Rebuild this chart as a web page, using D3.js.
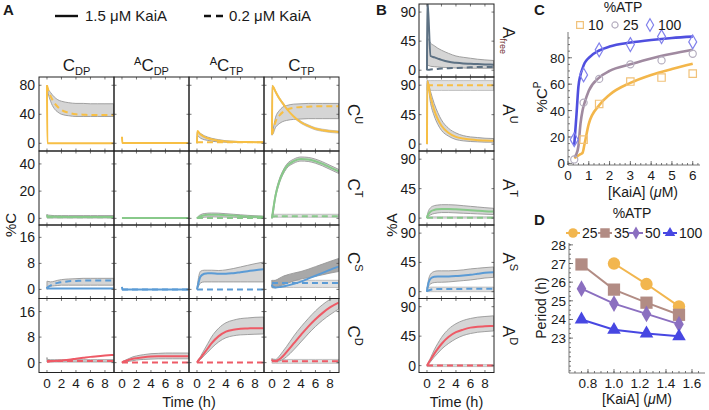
<!DOCTYPE html>
<html><head><meta charset="utf-8">
<script src="https://cdn.jsdelivr.net/npm/d3@7"></script>
<style>
body{margin:0;background:#fff}
text{font-family:"Liberation Sans",Arial,Helvetica,sans-serif;fill:#1a1a1a}
</style></head>
<body><svg id="fig" width="709" height="410"></svg>
<script>
// ---------------- DATA ----------------
const T = [0, 0.05, 0.5, 1, 1.5, 2, 3, 4, 5, 6, 7, 8, 9.2]; // time (h)
const xTicks = [0, 2, 4, 6, 8];
const colNames = [["", "C", "DP"], ["A", "C", "DP"], ["A", "C", "TP"], ["", "C", "TP"]];
const rowNamesA = ["U", "T", "S", "D"];
const rowNamesB = ["free", "U", "T", "S", "D"];
const yTicksA = [[0, 40, 80], [0, 20, 40], [0, 8, 16], [0, 8, 16]];
const yTicksB = [0, 45, 90];
const legendLabels = ["1.5 μM KaiA", "0.2 μM KaiA"];

// Row C^U : columns C_DP, AC_DP, AC_TP, C_TP
const U_solid = [
  [80, 0, 0, 0, 0, 0, 0, 0, 0, 0, 0, 0, 0],
  [9, 0.3, 0.3, 0.3, 0.3, 0.3, 0.3, 0.3, 0.3, 0.3, 0.3, 0.3, 0.3],
  [0, 17, 12, 9, 7, 5.5, 3.5, 2.5, 2, 1.8, 1.7, 1.6, 1.5],
  [12, 79, 71, 62, 55, 48, 37, 29, 24, 20, 18, 16.5, 15.5]];
const U_dashed = [
  [80, 78, 65, 56, 50, 46, 42, 40, 39.5, 39, 39, 39, 39],
  [0.3, 0.3, 0.3, 0.3, 0.3, 0.3, 0.3, 0.3, 0.3, 0.3, 0.3, 0.3, 0.3],
  [1.5, 1.5, 1.5, 1.5, 1.5, 1.5, 1.5, 1.5, 1.5, 1.5, 1.5, 1.5, 1.5],
  [12, 14, 30, 38, 43, 46, 49, 50, 50.5, 51, 51, 51, 51]];
const U_hi1 = [
  [80, 78, 70, 64, 60, 58, 56, 55, 55, 54.5, 54.5, 54.5, 54.5], null,
  [0, 16, 13.5, 10.5, 8.5, 7, 5, 3.5, 2.8, 2.3, 2, 1.8, 1.7],
  [12, 14, 36, 45, 50, 52, 54, 54.5, 55, 55, 55, 55, 55]];
const U_lo1 = [
  [80, 76, 58, 48, 43, 40, 38, 37, 37, 37, 37, 37, 37], null,
  [0, 10, 7, 5, 4, 3, 2, 1.5, 1.2, 1.2, 1.2, 1.2, 1.2],
  [12, 12, 22, 27, 30, 31.5, 33, 33.5, 34, 34, 34, 34, 34]];
const U_hi2 = [null, null, null, [13, 80, 72.5, 63.5, 56.5, 49.5, 38.5, 30.5, 25.5, 21.5, 19.5, 18, 17]];
const U_lo2 = [null, null, null, [11, 77.5, 69.5, 60.5, 53.5, 46.5, 35.5, 27.5, 22.5, 18.5, 16.5, 15, 14]];

// Row C^T
const Tr_solid = [
  [2.5, 1.6, 1.3, 1.2, 1.1, 1.1, 1, 1, 1, 1, 1, 1, 1],
  [0.2, 0.2, 0.2, 0.2, 0.2, 0.2, 0.2, 0.2, 0.2, 0.2, 0.2, 0.2, 0.2],
  [0, 0.3, 1.5, 2.3, 2.6, 2.7, 2.6, 2.3, 2, 1.7, 1.4, 1.2, 1],
  [0, 2, 17, 27, 33.5, 38, 42, 43.6, 43.3, 42, 40, 37.5, 34.5]];
const Tr_dashed = [
  [0.8, 0.8, 0.8, 0.8, 0.8, 0.8, 0.8, 0.8, 0.8, 0.8, 0.8, 0.8, 0.8],
  [0.2, 0.2, 0.2, 0.2, 0.2, 0.2, 0.2, 0.2, 0.2, 0.2, 0.2, 0.2, 0.2],
  [0.3, 0.3, 0.3, 0.3, 0.3, 0.3, 0.3, 0.3, 0.3, 0.3, 0.3, 0.3, 0.3],
  [1, 1.3, 1.5, 1.5, 1.5, 1.5, 1.5, 1.5, 1.5, 1.5, 1.5, 1.5, 1.5]];
const Tr_hi1 = [
  [3, 2.5, 2.2, 2, 2, 2, 2, 2, 2, 2, 2, 2, 2], null,
  [0, 0.5, 2.7, 3.5, 3.8, 3.9, 3.8, 3.4, 3, 2.6, 2.2, 1.9, 1.6],
  [1.5, 3.5, 18.5, 28.5, 35, 39.5, 43.5, 45.1, 44.8, 43.5, 41.5, 39, 36]];
const Tr_lo1 = [
  [0.3, 0.3, 0.3, 0.3, 0.3, 0.3, 0.3, 0.3, 0.3, 0.3, 0.3, 0.3, 0.3], null,
  [0, 0, 0.4, 0.8, 1, 1.1, 1, 0.9, 0.8, 0.7, 0.6, 0.5, 0.4],
  [0, 0.5, 15.5, 25.5, 32, 36.5, 40.5, 42.1, 41.8, 40.5, 38.5, 36, 33]];
const Tr_hi2 = [null, null, null, [3, 3, 3, 3, 3, 3, 3, 3, 3, 3, 3, 3, 3]];
const Tr_lo2 = [null, null, null, [0.8, 0.8, 0.8, 0.8, 0.8, 0.8, 0.8, 0.8, 0.8, 0.8, 0.8, 0.8, 0.8]];

// Row C^S
const S_solid = [
  [0.8, 0.3, 0.3, 0.3, 0.3, 0.3, 0.3, 0.3, 0.3, 0.3, 0.3, 0.3, 0.3],
  [0.8, 0, 0, 0, 0, 0, 0, 0, 0, 0, 0, 0, 0],
  [0, 0.5, 4, 4.8, 5, 5, 4.8, 4.8, 5, 5.3, 5.6, 5.9, 6.2],
  [1.5, 1, 0.6, 0.7, 0.9, 1.1, 1.7, 2.4, 3.3, 4.2, 5.1, 6, 7]];
const S_dashed = [
  [0.3, 0.5, 1.2, 1.7, 2, 2.2, 2.5, 2.6, 2.7, 2.7, 2.7, 2.7, 2.7],
  [0, 0, 0, 0, 0, 0, 0, 0, 0, 0, 0, 0, 0],
  [0, 0, 0, 0, 0, 0, 0, 0, 0, 0, 0, 0, 0],
  [2, 2, 2, 2, 2, 2, 2, 2, 2, 2, 2, 2, 2]];
const S_hi1 = [
  [2.5, 2.5, 2.3, 2.5, 2.8, 3, 3.2, 3.3, 3.4, 3.4, 3.4, 3.4, 3.4], null,
  [0, 1, 5.6, 5.9, 5.9, 5.9, 5.8, 6, 6.4, 6.9, 7.4, 7.9, 8.4],
  [2.8, 2.6, 2.8, 3.4, 4, 4.4, 5, 5.5, 6.2, 7, 7.8, 8.6, 9.5]];
const S_lo1 = [
  [0, 0.3, 0.9, 1.1, 1.2, 1.3, 1.3, 1.3, 1.3, 1.3, 1.3, 1.3, 1.3], null,
  [0, 0.2, 2, 2.3, 2.3, 2.3, 2.3, 2.3, 2.3, 2.3, 2.3, 2.3, 2.3],
  [0.5, 0.5, 0.5, 1, 1.4, 1.8, 2.6, 3.2, 3.6, 4, 4.5, 5, 5.5]];
const S_hi2 = [null, null, null, [2.8, 2.8, 2.8, 2.8, 2.8, 2.8, 2.8, 2.8, 2.8, 2.8, 2.8, 2.8, 2.8]];
const S_lo2 = [null, null, null, [0.6, 0.6, 0.6, 0.6, 0.6, 0.6, 0.6, 0.6, 0.6, 0.6, 0.6, 0.6, 0.6]];

// Row C^D
const D_solid = [
  [0.3, 0.3, 0.4, 0.5, 0.6, 0.7, 0.9, 1.2, 1.5, 1.8, 2, 2.2, 2.4],
  [0, 0.1, 0.5, 0.9, 1.2, 1.4, 1.7, 1.9, 2, 2, 2, 2, 2],
  [0, 0.2, 1.5, 3, 4.5, 6, 8.3, 9.7, 10.3, 10.6, 10.7, 10.8, 10.8],
  [1, 0.7, 0.5, 1, 2, 3.3, 6, 8.7, 11.3, 13.6, 15.6, 17.3, 18.8]];
const D_dashed = [
  [0.5, 0.5, 0.5, 0.5, 0.5, 0.5, 0.5, 0.5, 0.5, 0.5, 0.5, 0.5, 0.5],
  [0, 0, 0, 0, 0, 0, 0, 0, 0, 0, 0, 0, 0],
  [0, 0, 0, 0, 0, 0, 0, 0, 0, 0, 0, 0, 0],
  [0.4, 0.4, 0.4, 0.4, 0.4, 0.4, 0.4, 0.4, 0.4, 0.4, 0.4, 0.4, 0.4]];
const D_hi1 = [
  [1.6, 1, 0.9, 0.9, 0.9, 0.9, 0.9, 0.9, 0.9, 0.9, 0.9, 0.9, 0.9],
  [0, 0.2, 0.8, 1.3, 1.8, 2.1, 2.5, 2.8, 2.9, 3, 3, 3, 3],
  [0, 0.3, 2, 4, 6, 8, 10.8, 12.5, 13.3, 13.8, 14, 14.2, 14.3],
  [1.3, 1.1, 1, 2, 3.5, 5, 8.3, 11.2, 13.8, 16.2, 18.2, 19.8, 21]];
const D_lo1 = [
  [0.2, 0.2, 0.2, 0.2, 0.2, 0.2, 0.2, 0.2, 0.2, 0.2, 0.2, 0.2, 0.2],
  [0, 0, 0.2, 0.4, 0.6, 0.8, 1, 1.1, 1.2, 1.2, 1.2, 1.2, 1.2],
  [0, 0.1, 1, 2.2, 3.3, 4.5, 6.5, 7.8, 8.4, 8.7, 8.8, 8.9, 9],
  [0.6, 0.5, 0.3, 0.5, 1, 1.8, 4, 6.5, 9, 11.3, 13.3, 15, 16.8]];
const D_hi2 = [null, null, null, [1, 1, 1, 1, 1, 1, 1, 1, 1, 1, 1, 1, 1]];
const D_lo2 = [null, null, null, [-0.2, -0.2, -0.2, -0.2, -0.2, -0.2, -0.2, -0.2, -0.2, -0.2, -0.2, -0.2, -0.2]];

// Panel B rows: A_free, A^U, A^T, A^S, A^D
const B_solid = [
  [0, 110, 22, 20, 18, 16, 13, 11.5, 10.5, 10, 9.5, 9, 8.5],
  [0, 96, 72, 52, 38, 28, 17, 11, 8.5, 7, 6, 5.5, 5],
  [0, 3, 10, 12.5, 13.5, 14, 14, 13.5, 12.8, 12, 11.2, 10.5, 10],
  [0, 5, 20, 23, 23.5, 23.5, 23.5, 24, 25, 26, 27.5, 29, 30],
  [0, 1, 9, 18, 26, 33, 44, 51, 55, 58, 59.5, 60, 60.5]];
const B_dashed = [
  [0, 0.5, 1, 1.5, 2, 2.5, 3, 3.5, 4, 4.5, 5, 5, 5],
  [90, 90, 90, 90, 90, 90, 90, 90, 90, 90, 90, 90, 90],
  [0.5, 0.5, 0.5, 0.5, 0.5, 0.5, 0.5, 0.5, 0.5, 0.5, 0.5, 0.5, 0.5],
  [0, 1, 3, 4, 4, 4, 4, 4.2, 4.3, 4.4, 4.5, 4.5, 4.5],
  [0, 0, 0, 0, 0, 0, 0, 0, 0, 0, 0, 0, 0]];
const B_hi1 = [
  [0, 50, 42, 38, 34, 31, 26, 22, 20, 18.5, 17, 16, 15],
  [0, 97, 80, 62, 48, 37, 24, 17, 13, 11, 10, 9, 8.5],
  [0, 5, 16, 19, 20, 20.5, 20.5, 20, 19, 18, 17, 16, 15],
  [0, 7, 27, 31, 32, 32, 32, 32.5, 33.5, 35, 36, 37, 38],
  [0, 1.5, 12, 24, 34, 43, 56, 64, 69, 72, 74, 75, 76]];
const B_lo1 = [
  [0, 8, 6, 5.5, 5, 4.5, 4, 3.5, 3.5, 3, 3, 3, 3],
  [0, 93, 62, 43, 30, 21, 12, 7, 5, 4, 3.5, 3, 3],
  [0, 1, 5, 7, 8, 8.5, 8.5, 8, 7.5, 7, 6.5, 6, 5.5],
  [0, 3, 12, 14, 14.5, 14.5, 15, 16, 17, 18, 19.5, 21, 22],
  [0, 0.5, 6, 13, 19, 25, 34, 41, 46, 49, 51, 52, 53]];
const B_hi2 = [null,
  [97, 97, 97, 97, 97, 97, 97, 97, 97, 97, 97, 97, 97],
  [2, 2, 2, 2, 2, 2, 2, 2, 2, 2, 2, 2, 2],
  [7, 7, 7, 7, 7, 7, 7, 7, 7, 7, 7, 7, 7],
  [1.5, 1.5, 1.5, 1.5, 1.5, 1.5, 1.5, 1.5, 1.5, 1.5, 1.5, 1.5, 1.5]];
const B_lo2 = [null,
  [82, 82, 82, 82, 82, 82, 82, 82, 82, 82, 82, 82, 82],
  [0, 0, 0, 0, 0, 0, 0, 0, 0, 0, 0, 0, 0],
  [0, 0, 0, 0, 0, 0, 0, 0, 0, 0, 0, 0, 0],
  [-1.5, -1.5, -1.5, -1.5, -1.5, -1.5, -1.5, -1.5, -1.5, -1.5, -1.5, -1.5, -1.5]];

// Panel C: %C^P vs [KaiA]
const C_series = ["10", "25", "100"];
const C_curveX = [0.3, 0.4, 0.5, 0.6, 0.7, 0.8, 1, 1.5, 2, 3, 4, 5, 6];
const C_curve10 = [4, 5, 6, 7, 8, 15, 30, 44, 52, 61, 67, 71.5, 75.5];
const C_curve25 = [5, 7, 13, 30, 40, 46, 55, 65, 70, 75, 79.5, 83, 86];
const C_curve100 = [14, 35, 58, 67, 72, 76, 80, 85.5, 88.5, 91.5, 93.5, 95, 96];
const C_ptX = [0.3, 0.75, 1.5, 3, 4.5, 6];
const C_pt10 = [null, 18, 45, 62, 65, 68];
const C_pt25 = [3, 46, 64, 75, 78, 83];
const C_pt100 = [18, 67, 86, 90, 96, 92];
const C_xTicks = [0, 1, 2, 3, 4, 5, 6];
const C_yTicks = [0, 20, 40, 60, 80];

// Panel D: period vs [KaiA]
const D_series = ["25", "35", "50", "100"];
const D_x = [0.75, 1.0, 1.25, 1.5];
const D_p25 = [null, 27.0, 25.9, 24.7];
const D_p35 = [26.95, 25.6, 24.9, 24.25];
const D_p50 = [25.65, 24.85, 24.3, 23.75];
const D_p100 = [24.0, 23.45, 23.25, 23.1];
const D_xTicks = [0.8, 1.0, 1.2, 1.4, 1.6];
const D_yTicks = [23, 24, 25, 26, 27, 28];

// ---------------- STYLE / LAYOUT ----------------
const colA = ["#F7BF45", "#88C98A", "#5B9BD5", "#EE5A66"];
const colB = ["#5D7183", "#F7BF45", "#88C98A", "#5B9BD5", "#EE5A66"];
const xDomA = [-1.1, 9.25];
const yDomA = [[-10.6, 91.4], [-4.9, 49.5], [-2.8, 19.8], [-3.1, 20.1]];
const yDomB = [-10.5, 102.5];
const ax0 = 39, colW = 75;
const rowY = [77, 151, 225, 298.5, 372.5];
const bx0 = 419, bRowY = [4, 77, 151, 225, 298.5, 372.5];

const svg = d3.select("#fig");
const defs = svg.append("defs");
let clipN = 0;

function tsPanel(px, py, w, h, yDom, yTicks, s, d, hi1, lo1, hi2, lo2, color, darkBand) {
  const xs = d3.scaleLinear().domain(xDomA).range([px, px + w]);
  const ys = d3.scaleLinear().domain(yDom).range([py + h, py]);
  const id = "clip" + (clipN++);
  defs.append("clipPath").attr("id", id).append("rect")
    .attr("x", px).attr("y", py).attr("width", w).attr("height", h);
  const g = svg.append("g").attr("clip-path", `url(#${id})`);
  const area = (hi, lo) => d3.area().x(t => xs(t)).y0((t, i) => ys(lo[i])).y1((t, i) => ys(hi[i]))
    .curve(d3.curveMonotoneX)(T);
  const line = v => d3.line().x(t => xs(t)).y((t, i) => ys(v[i])).curve(d3.curveMonotoneX)(T);
  if (hi2) g.append("path").attr("d", area(hi2, lo2)).attr("fill", "#e1e1e1")
    .attr("stroke", "#b5b5b5").attr("stroke-width", 0.8);
  if (hi1) g.append("path").attr("d", area(hi1, lo1)).attr("fill", darkBand ? "#a8a8a8" : "#d5d5d5")
    .attr("stroke", "#979797").attr("stroke-width", 0.9);
  if (d) g.append("path").attr("d", line(d)).attr("fill", "none").attr("stroke", color)
    .attr("stroke-width", 2).attr("stroke-dasharray", "6,4");
  if (s) g.append("path").attr("d", line(s)).attr("fill", "none").attr("stroke", color)
    .attr("stroke-width", 2);
  const tk = svg.append("g").attr("stroke", "#555").attr("stroke-width", 0.8);
  xTicks.forEach(t => {
    tk.append("line").attr("x1", xs(t)).attr("x2", xs(t)).attr("y1", py + h).attr("y2", py + h - 2.5);
    tk.append("line").attr("x1", xs(t)).attr("x2", xs(t)).attr("y1", py).attr("y2", py + 2.5);
  });
  yTicks.forEach(v => {
    tk.append("line").attr("x1", px).attr("x2", px + 2.5).attr("y1", ys(v)).attr("y2", ys(v));
    tk.append("line").attr("x1", px + w).attr("x2", px + w - 2.5).attr("y1", ys(v)).attr("y2", ys(v));
  });
  svg.append("rect").attr("x", px).attr("y", py).attr("width", w).attr("height", h)
    .attr("fill", "none").attr("stroke", "#222").attr("stroke-width", 1);
  return {xs, ys};
}

// ---------------- PANEL A ----------------
const rowsA = [
  [U_solid, U_dashed, U_hi1, U_lo1, U_hi2, U_lo2],
  [Tr_solid, Tr_dashed, Tr_hi1, Tr_lo1, Tr_hi2, Tr_lo2],
  [S_solid, S_dashed, S_hi1, S_lo1, S_hi2, S_lo2],
  [D_solid, D_dashed, D_hi1, D_lo1, D_hi2, D_lo2]];

rowsA.forEach((R, r) => {
  for (let c = 0; c < 4; c++) {
    const px = ax0 + c * colW, py = rowY[r], h = rowY[r + 1] - rowY[r];
    const sc = tsPanel(px, py, colW, h, yDomA[r], yTicksA[r], R[0][c], R[1][c], R[2][c], R[3][c],
      R[4][c], R[5][c], colA[r], r === 2 && c === 3);
    if (c === 0) {
      yTicksA[r].forEach(v => svg.append("text").attr("x", px - 4).attr("y", sc.ys(v) + 5)
        .attr("text-anchor", "end").attr("font-size", 14).text(v));
    }
    if (r === 3) {
      xTicks.forEach(t => svg.append("text").attr("x", sc.xs(t)).attr("y", 388)
        .attr("text-anchor", "middle").attr("font-size", 13.5).text(t));
    }
  }
  const cy = (rowY[r] + rowY[r + 1]) / 2, lx = 348;
  const t = svg.append("text").attr("transform", `translate(${lx},${cy}) rotate(90)`)
    .attr("text-anchor", "middle");
  t.append("tspan").attr("font-size", 17).text("C");
  t.append("tspan").attr("font-size", 11).attr("dy", -7).text(rowNamesA[r]);
});
colNames.forEach((n, c) => {
  const t = svg.append("text").attr("x", ax0 + c * colW + colW / 2).attr("y", 71).attr("text-anchor", "middle");
  if (n[0]) t.append("tspan").attr("font-size", 11).attr("dy", -6).text(n[0]);
  t.append("tspan").attr("font-size", 17).attr("dy", n[0] ? 6 : 0).text(n[1]);
  t.append("tspan").attr("font-size", 11).attr("dy", 4).text(n[2]);
});
svg.append("text").attr("x", 3).attr("y", 15).attr("font-size", 15).attr("font-weight", "bold").text("A");
svg.append("text").attr("transform", "translate(16,225) rotate(-90)").attr("text-anchor", "middle")
  .attr("font-size", 15).text("%C");
svg.append("text").attr("x", ax0 + 2 * colW).attr("y", 407).attr("text-anchor", "middle")
  .attr("font-size", 14.5).text("Time (h)");
svg.append("line").attr("x1", 55).attr("x2", 78).attr("y1", 16).attr("y2", 16).attr("stroke", "#111").attr("stroke-width", 2.4);
svg.append("text").attr("x", 85).attr("y", 21).attr("font-size", 15).text(legendLabels[0]);
svg.append("line").attr("x1", 204).attr("x2", 223).attr("y1", 16).attr("y2", 16).attr("stroke", "#111")
  .attr("stroke-width", 2.4).attr("stroke-dasharray", "7,5");
svg.append("text").attr("x", 229).attr("y", 21).attr("font-size", 15).text(legendLabels[1]);

// ---------------- PANEL B ----------------
for (let r = 0; r < 5; r++) {
  const py = bRowY[r], h = bRowY[r + 1] - bRowY[r];
  const sc = tsPanel(bx0, py, colW, h, yDomB, yTicksB, B_solid[r], B_dashed[r], B_hi1[r], B_lo1[r],
    B_hi2[r], B_lo2[r], colB[r], false);
  yTicksB.forEach(v => svg.append("text").attr("x", bx0 - 3).attr("y", sc.ys(v) + 5)
    .attr("text-anchor", "end").attr("font-size", 14).text(v));
  if (r === 4) xTicks.forEach(t => svg.append("text").attr("x", sc.xs(t)).attr("y", 388)
    .attr("text-anchor", "middle").attr("font-size", 13.5).text(t));
  const cy = (bRowY[r] + bRowY[r + 1]) / 2;
  const t = svg.append("text").attr("transform", `translate(${bx0 + colW + 9},${cy}) rotate(90)`)
    .attr("text-anchor", "middle");
  t.append("tspan").attr("font-size", 17).text("A");
  if (r === 0) t.append("tspan").attr("font-size", 9).attr("dy", 3).attr("fill", "#6b2b2b").text(rowNamesB[r]);
  else t.append("tspan").attr("font-size", 11).attr("dy", -7).text(rowNamesB[r]);
}
svg.append("text").attr("x", 376).attr("y", 15).attr("font-size", 15).attr("font-weight", "bold").text("B");
svg.append("text").attr("transform", "translate(397,225) rotate(-90)").attr("text-anchor", "middle")
  .attr("font-size", 15).text("%A");
svg.append("text").attr("x", bx0 + colW / 2).attr("y", 407).attr("text-anchor", "middle")
  .attr("font-size", 14.5).text("Time (h)");

// ---------------- PANEL C ----------------
const cX = d3.scaleLinear().domain([0, 6.35]).range([568, 700]);
const cY = d3.scaleLinear().domain([-1.2, 99.5]).range([165, 32]);
const cCol = {"10": "#F3B64A", "25": "#A08AA0", "100": "#4F4FDF"};
const cPtCol = {"10": "#F1C27A", "25": "#B5AEBF", "100": "#8282EC"};
const cSym = {"10": d3.symbolSquare, "25": d3.symbolCircle, "100": d3.symbolDiamond};
function minorAxis(g, orient, scale, ticks, minors, pos) {
  const s = g.append("g").attr("stroke", "#555").attr("stroke-width", 0.8);
  const r = scale.range();
  if (orient === "left") {
    s.append("line").attr("x1", pos).attr("x2", pos).attr("y1", r[0]).attr("y2", r[1]);
    minors.forEach(v => s.append("line").attr("x1", pos).attr("x2", pos + 2).attr("y1", scale(v)).attr("y2", scale(v)));
    ticks.forEach(v => s.append("line").attr("x1", pos).attr("x2", pos + 4).attr("y1", scale(v)).attr("y2", scale(v)));
  } else {
    s.append("line").attr("y1", pos).attr("y2", pos).attr("x1", r[0]).attr("x2", r[1]);
    minors.forEach(v => s.append("line").attr("y1", pos).attr("y2", pos - 2).attr("x1", scale(v)).attr("x2", scale(v)));
    ticks.forEach(v => s.append("line").attr("y1", pos).attr("y2", pos - 4).attr("x1", scale(v)).attr("x2", scale(v)));
  }
}
minorAxis(svg, "left", cY, C_yTicks, d3.range(0, 100, 5), 568);
minorAxis(svg, "bottom", cX, C_xTicks, d3.range(0, 6.3, 0.25), 165);
C_yTicks.forEach(v => svg.append("text").attr("x", 565).attr("y", cY(v) + 5).attr("text-anchor", "end")
  .attr("font-size", 13.5).text(v));
C_xTicks.forEach(v => svg.append("text").attr("x", cX(v)).attr("y", 180).attr("text-anchor", "middle")
  .attr("font-size", 13.5).text(v));
[[C_curve10, "10"], [C_curve25, "25"], [C_curve100, "100"]].forEach(([v, k]) => {
  svg.append("path").attr("d", d3.line().x((x) => cX(x)).y((x, i) => cY(v[i])).curve(d3.curveMonotoneX)(C_curveX))
    .attr("fill", "none").attr("stroke", cCol[k]).attr("stroke-width", 2.6);
});
[[C_pt10, "10"], [C_pt25, "25"], [C_pt100, "100"]].forEach(([v, k]) => {
  C_ptX.forEach((x, i) => {
    if (v[i] == null) return;
    svg.append("path").attr("d", d3.symbol().type(cSym[k]).size(k === "25" ? 40 : 55)())
      .attr("transform", `translate(${cX(x)},${cY(v[i])})`).attr("fill", "none")
      .attr("stroke", cPtCol[k]).attr("stroke-width", 1.2);
  });
});
svg.append("text").attr("x", 534).attr("y", 15).attr("font-size", 15).attr("font-weight", "bold").text("C");
svg.append("text").attr("x", 623).attr("y", 12).attr("text-anchor", "middle").attr("font-size", 14).text("%ATP");
const cLegX = [580, 615, 650];
C_series.forEach((k, i) => {
  svg.append("path").attr("d", d3.symbol().type(cSym[k]).size(k === "25" ? 30 : 45)())
    .attr("transform", `translate(${cLegX[i]},${25})`).attr("fill", "none").attr("stroke", cPtCol[k]).attr("stroke-width", 1.2);
  svg.append("text").attr("x", cLegX[i] + 8).attr("y", 30).attr("font-size", 14).text(k);
});
const cyl = svg.append("text").attr("transform", "translate(547,97) rotate(-90)").attr("text-anchor", "middle");
cyl.append("tspan").attr("font-size", 15).text("%C");
cyl.append("tspan").attr("font-size", 10).attr("dy", -6).text("P");
const cxl = svg.append("text").attr("x", 643).attr("y", 197).attr("text-anchor", "middle").attr("font-size", 14);
cxl.append("tspan").text("[KaiA] (");
cxl.append("tspan").attr("font-style", "italic").text("μ");
cxl.append("tspan").text("M)");

// ---------------- PANEL D ----------------
const dX = d3.scaleLinear().domain([0.654, 1.7]).range([569, 705]);
const dY = d3.scaleLinear().domain([21.13, 28.1]).range([373, 243]);
const dCol = {"25": "#F2B64E", "35": "#B28C84", "50": "#8B6FC0", "100": "#4747E2"};
const dSym = {"25": d3.symbolCircle, "35": d3.symbolSquare, "50": d3.symbolDiamond, "100": d3.symbolTriangle};
const dSize = {"25": 120, "35": 150, "50": 80, "100": 80};
minorAxis(svg, "left", dY, D_yTicks, d3.range(21.25, 28.1, 0.25), 569);
minorAxis(svg, "bottom", dX, D_xTicks, d3.range(0.7, 1.7, 0.05), 373);
D_yTicks.forEach(v => svg.append("text").attr("x", 566).attr("y", dY(v) + 5).attr("text-anchor", "end")
  .attr("font-size", 13.5).text(v));
D_xTicks.forEach(v => svg.append("text").attr("x", dX(v)).attr("y", 388).attr("text-anchor", "middle")
  .attr("font-size", 13.5).text(v.toFixed(1)));
[[D_p25, "25"], [D_p35, "35"], [D_p50, "50"], [D_p100, "100"]].forEach(([v, k]) => {
  const pts = D_x.map((x, i) => [x, v[i]]).filter(p => p[1] != null);
  svg.append("path").attr("d", d3.line().x(p => dX(p[0])).y(p => dY(p[1]))(pts))
    .attr("fill", "none").attr("stroke", dCol[k]).attr("stroke-width", 2);
  pts.forEach(p => svg.append("path").attr("d", d3.symbol().type(dSym[k]).size(dSize[k])())
    .attr("transform", `translate(${dX(p[0])},${dY(p[1])})`).attr("fill", dCol[k]));
});
svg.append("text").attr("x", 534).attr("y", 225).attr("font-size", 15).attr("font-weight", "bold").text("D");
svg.append("text").attr("x", 632).attr("y", 218).attr("text-anchor", "middle").attr("font-size", 14).text("%ATP");
const dLegX = [573, 605, 636, 670];
D_series.forEach((k, i) => {
  svg.append("line").attr("x1", dLegX[i] - 7).attr("x2", dLegX[i] + 7).attr("y1", 233).attr("y2", 233)
    .attr("stroke", dCol[k]).attr("stroke-width", 2);
  svg.append("path").attr("d", d3.symbol().type(dSym[k]).size(dSize[k] * 0.6)())
    .attr("transform", `translate(${dLegX[i]},233)`).attr("fill", dCol[k]);
  svg.append("text").attr("x", dLegX[i] + 9).attr("y", 238).attr("font-size", 14).text(k);
});
svg.append("text").attr("transform", "translate(546,308) rotate(-90)").attr("text-anchor", "middle")
  .attr("font-size", 14).text("Period (h)");
const dxl = svg.append("text").attr("x", 637).attr("y", 404).attr("text-anchor", "middle").attr("font-size", 14);
dxl.append("tspan").text("[KaiA] (");
dxl.append("tspan").attr("font-style", "italic").text("μ");
dxl.append("tspan").text("M)");
</script></body></html>
